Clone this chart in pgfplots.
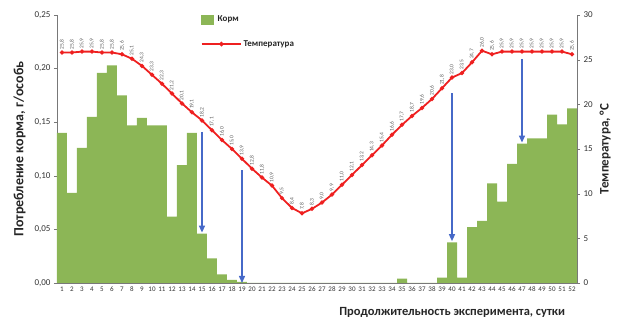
\documentclass[border=0pt]{standalone}
\usepackage{pgfplots}
\pgfplotsset{compat=1.18}
\usepackage{pgfplotstable}
\usepackage{fontspec}
\setmainfont{Carlito}
\usetikzlibrary{arrows.meta}
\definecolor{barcol}{RGB}{140,182,86}
\definecolor{tempcol}{RGB}{238,32,32}
\definecolor{arrcol}{RGB}{70,105,200}
\definecolor{axcol}{RGB}{120,120,120}
\pgfplotstableread{
day feed temp
1 0.140 25.8
2 0.084 25.8
3 0.126 25.9
4 0.155 25.9
5 0.196 25.8
6 0.203 25.8
7 0.175 25.6
8 0.147 25.1
9 0.154 24.3
10 0.147 23.3
11 0.147 22.3
12 0.062 21.2
13 0.110 20.1
14 0.140 19.1
15 0.046 18.2
16 0.023 17.1
17 0.008 16.0
18 0.003 15.0
19 0.001 13.9
20 0 12.8
21 0 11.8
22 0 10.9
23 0 9.5
24 0 8.4
25 0 7.8
26 0 8.3
27 0 9.0
28 0 9.9
29 0 11.0
30 0 12.1
31 0 13.2
32 0 14.3
33 0 15.4
34 0 16.6
35 0.004 17.7
36 0 18.7
37 0 19.6
38 0 20.6
39 0.005 21.8
40 0.038 23.0
41 0.005 23.5
42 0.052 24.7
43 0.058 26.0
44 0.093 25.6
45 0.076 25.9
46 0.111 25.9
47 0.130 25.9
48 0.135 25.9
49 0.135 25.9
50 0.157 25.9
51 0.148 25.9
52 0.163 25.6
}\data
\begin{document}
\begin{tikzpicture}
\begin{axis}[
  name=ax,
  scale only axis, width=520pt, height=268pt,
  xmin=0.5, xmax=52.5, ymin=0, ymax=0.25,
  axis y line*=left, axis x line*=bottom,
  axis line style={axcol},
  xtick={1,...,52}, xtick style={draw=none},
  x tick label style={font=\fontsize{7}{8}\selectfont, color=black!80, inner sep=1pt},
  ytick={0,0.05,...,0.25},
  y tick label style={font=\fontsize{9}{10}\selectfont, color=black!80,
    /pgf/number format/.cd, fixed, fixed zerofill, precision=2, use comma},
  ytick style={axcol}, tick align=outside, major tick length=3pt,
  /pgf/number format/assume math mode=true,
  scaled y ticks=false,
  ylabel={\bfseries Потребление корма, г/особь},
  ylabel style={font=\fontsize{14}{15}\selectfont, color=black!85, yshift=2pt},
  xlabel={\bfseries Продолжительность эксперимента, сутки},
  xlabel style={font=\fontsize{12.5}{13}\selectfont, color=black!85, at={(axis description cs:0.76,-0.078)}, anchor=north},
]
\addplot[ybar, bar width=1, bar shift=0pt, fill=barcol, draw=none] table[x=day, y=feed] {\data};
\draw[arrcol, line width=1.4pt, -{Triangle[length=7pt,width=6pt]}] (axis cs:15,0.141) -- (axis cs:15,0.047);
\draw[arrcol, line width=1.4pt, -{Triangle[length=7pt,width=6pt]}] (axis cs:19,0.105) -- (axis cs:19,0.000);
\draw[arrcol, line width=1.4pt, -{Triangle[length=7pt,width=6pt]}] (axis cs:40,0.177) -- (axis cs:40,0.039);
\draw[arrcol, line width=1.4pt, -{Triangle[length=7pt,width=6pt]}] (axis cs:47,0.209) -- (axis cs:47,0.131);
\end{axis}
\begin{axis}[
  scale only axis, width=520pt, height=268pt,
  xmin=0.5, xmax=52.5, ymin=0, ymax=30,
  axis x line=none, axis y line*=right,
  axis line style={axcol},
  ytick={0,5,...,30},
  y tick label style={font=\fontsize{9}{10}\selectfont, color=black!80},
  ytick style={axcol}, tick align=outside, major tick length=3pt,
  /pgf/number format/assume math mode=true,
  ylabel={\bfseries Температура, °С},
  ylabel style={font=\fontsize{13}{14}\selectfont, color=black!85},
  legend style={at={(0.27,1.01)}, anchor=north west, draw=none, fill=none,
    font=\fontsize{9}{10}\selectfont\bfseries, row sep=14pt, text=black!85,
    nodes={inner sep=1.5pt}},
  legend cell align=left,
]
\addlegendimage{legend image code/.code={\fill[barcol] (0pt,-4.5pt) rectangle (12pt,5pt);}}
\addlegendentry{\hspace*{-29pt}Корм}
\addplot[tempcol, line width=1.8pt, mark=*, mark size=1.1pt,
  mark options={fill=tempcol, draw=tempcol},
  point meta=y,
  legend image code/.code={\draw[tempcol, line width=1.8pt] (0cm,0cm) -- (1.4cm,0cm);
     \fill[tempcol] (0.7cm,0cm) circle (1.3pt);},
  nodes near coords={\pgfmathprintnumber[fixed,fixed zerofill,precision=1,use comma]{\pgfplotspointmeta}},
  every node near coord/.append style={rotate=90, anchor=west, inner sep=2.5pt,
    font=\fontsize{5.5}{6}\selectfont, text=black!65},
] table[x=day, y=temp] {\data};
\addlegendentry{Температура}
\end{axis}
\pgfresetboundingbox
\path (ax.south west) ++(-57pt,-39pt) coordinate (bl);
\path (ax.north east) ++(45pt,15pt) coordinate (tr);
\path[use as bounding box] (bl) rectangle (tr);
\end{tikzpicture}
\end{document}
